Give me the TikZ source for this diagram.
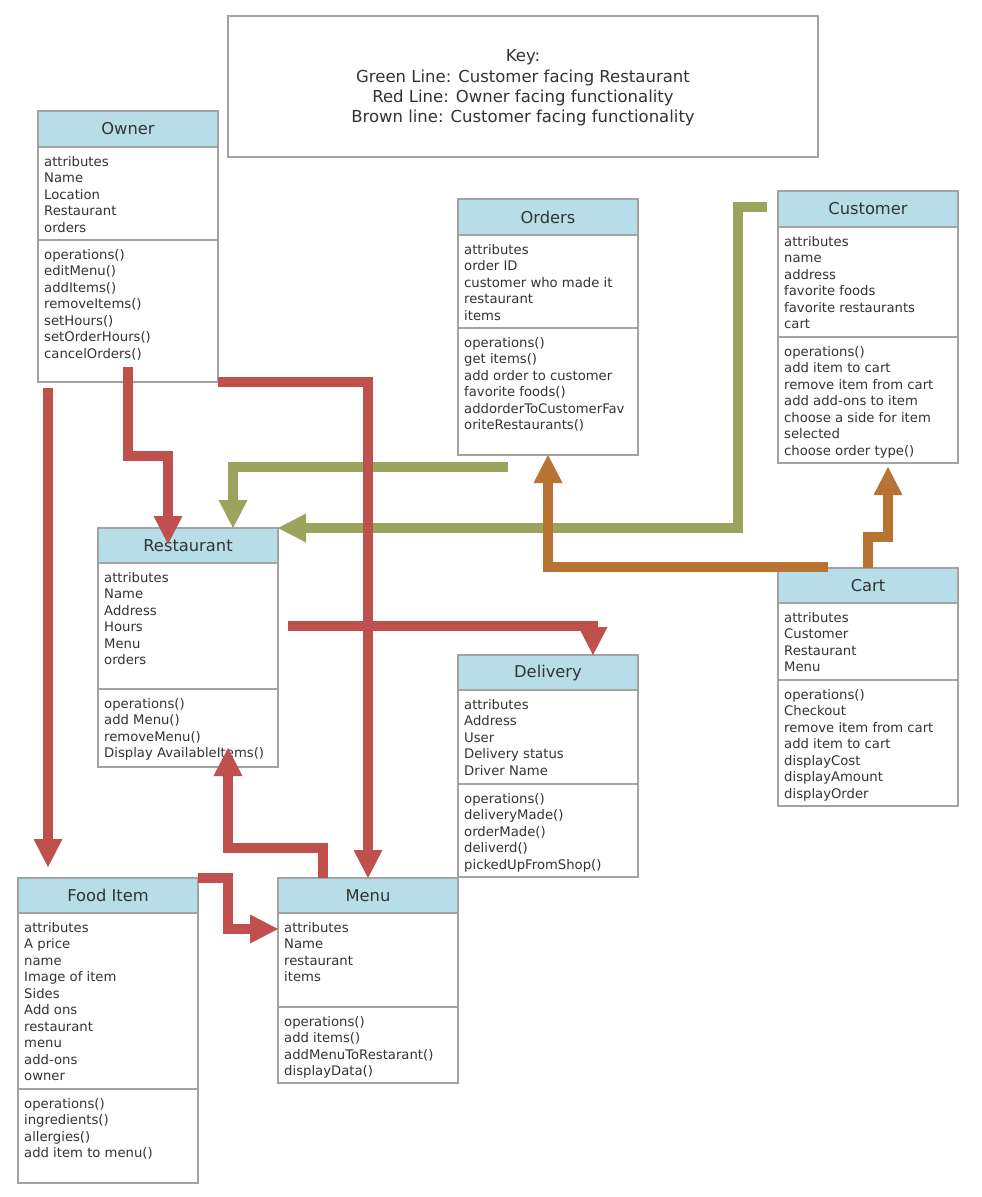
\documentclass[tikz,border=0pt]{standalone}
\usepackage{fontspec}
\setmainfont{DejaVu Sans}
\usetikzlibrary{arrows.meta,calc}
\definecolor{hdrblue}{HTML}{B7DDE8}
\definecolor{bordergray}{HTML}{A3A3A3}
\definecolor{txt}{HTML}{333333}
\definecolor{redc}{HTML}{C0504D}
\definecolor{greenc}{HTML}{9CA35C}
\definecolor{brownc}{HTML}{B87333}
\tikzset{
  box/.style={draw=bordergray, line width=1.4pt, fill=white, anchor=north west,
    inner sep=0pt, outer sep=0pt, minimum width=180pt},
  hd/.style={box, fill=hdrblue, text=txt, font=\fontsize{16.3}{19}\selectfont},
  txtblk/.style={anchor=north west, inner sep=0pt, align=left, text=txt,
    font=\fontsize{13.2}{16.5}\selectfont},
  conn/.style={line width=9.5pt, line join=miter,
    -{Triangle[width=29pt,length=28pt,line width=0pt]}},
  keybox/.style={draw=bordergray, line width=1.5pt, fill=white, anchor=north west,
    inner sep=0pt, outer sep=0pt},
  keytext/.style={align=center, text=txt, font=\fontsize{16.5}{20.3}\selectfont, inner sep=0pt}
}
\newcommand{\umlclass}[9]{%
  \node[hd, minimum height={#4-#3}] (#1) at (#2,#3) {#7};
  \node[box, minimum height={#5-#4}] (#1-a) at (#2,#4) {};
  \node[box, minimum height={#6-#5}] (#1-o) at (#2,#5) {};
  \node[txtblk] (#1-at) at (#2+6,#4+8) {\rule{0pt}{11pt}#8};
  \node[txtblk] (#1-ot) at (#2+6,#5+8) {\rule{0pt}{11pt}#9};
}
\begin{document}
\begin{tikzpicture}[x=1pt,y=-1pt]
\useasboundingbox (0,0) rectangle (982,1197);
\fill[white] (0,0) rectangle (982,1197);

% key
\node[keybox, minimum width=590pt, minimum height=141pt] (key) at (228,16) {};
\node[keytext] (keyt) at (523,88) {Key:\\Green Line: Customer facing Restaurant\\Red Line: Owner facing functionality\\Brown line: Customer facing functionality};

% classes
\umlclass{owner}{38}{111}{147}{240}{382}{Owner}
  {attributes\\Name\\Location\\Restaurant\\orders}
  {operations()\\editMenu()\\addItems()\\removeItems()\\setHours()\\setOrderHours()\\cancelOrders()}
\umlclass{orders}{458}{199}{235}{328}{455}{Orders}
  {attributes\\order ID\\customer who made it\\restaurant\\items}
  {operations()\\get items()\\add order to customer\\favorite foods()\\addorderToCustomerFav\\oriteRestaurants()}
\umlclass{cust}{778}{191}{227}{337}{463}{Customer}
  {attributes\\name\\address\\favorite foods\\favorite restaurants\\cart}
  {operations()\\add item to cart\\remove item from cart\\add add-ons to item\\choose a side for item\\selected\\choose order type()}
\umlclass{rest}{98}{528}{563}{689}{767}{Restaurant}
  {attributes\\Name\\Address\\Hours\\Menu\\orders}
  {operations()\\add Menu()\\removeMenu()\\Display AvailableItems()}
\umlclass{deliv}{458}{655}{690}{784}{877}{Delivery}
  {attributes\\Address\\User\\Delivery status\\Driver Name}
  {operations()\\deliveryMade()\\orderMade()\\deliverd()\\pickedUpFromShop()}
\umlclass{cart}{778}{568}{603}{680}{806}{Cart}
  {attributes\\Customer\\Restaurant\\Menu}
  {operations()\\Checkout\\remove item from cart\\add item to cart\\displayCost\\displayAmount\\displayOrder}
\umlclass{food}{18}{878}{913}{1089}{1183}{Food Item}
  {attributes\\A price\\name\\Image of item\\Sides\\Add ons\\restaurant\\menu\\add-ons\\owner}
  {operations()\\ingredients()\\allergies()\\add item to menu()}
\umlclass{menu}{278}{878}{913}{1007}{1083}{Menu}
  {attributes\\Name\\restaurant\\items}
  {operations()\\add items()\\addMenuToRestarant()\\displayData()}

% green connectors: customer facing restaurant
\draw[conn, greenc] ($(orders-o.south)+(-40,12)$) -| ($(rest.north west)+(135,0)$);
\draw[conn, greenc] ($(cust.west)+(-11,-2)$) -- ++(-29,0) |- (rest.north east);

% brown connectors: customer facing functionality
\draw[conn, brownc] ($(cart.north west)+(50,-1)$) -| (orders-o.south);
\draw[conn, brownc] (cart.north) -- ++(0,-31) -| ($(cust-o.south)+(20,4)$);

% red connectors: owner facing functionality
\draw[conn, redc] ($(owner-o.south west)+(10,6)$) -- ($(food.north west)+(30,-11)$);
\draw[conn, redc] ($(owner-o.south west)+(90,-15)$) -- ++(0,89) -- ++(40,0) -- ($(rest.north west)+(70,16)$);
\draw[conn, redc] (owner-o.south east) -| (menu.north);
\draw[conn, redc] ($(rest-a.east)+(10,0)$) -| ($(deliv.north)+(45,0)$);
\draw[conn, redc] ($(menu.north west)+(45,0)$) -- ++(0,-30) -| ($(rest-o.south)+(40,-19)$);
\draw[conn, redc] (food.north east) -- ++(30,0) |- ($(menu-a.north west)+(0,16)$);
\end{tikzpicture}
\end{document}
